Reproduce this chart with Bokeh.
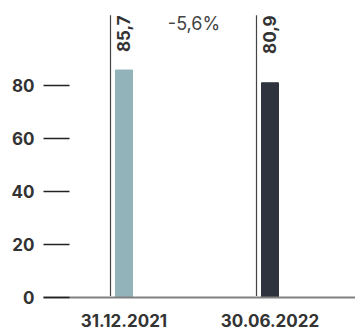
import math
from bokeh.plotting import figure
from bokeh.models import Range1d, FixedTicker, ColumnDataSource
from bokeh.core.properties import value
from bokeh.embed import file_html
from bokeh.resources import INLINE

# Data
dates = ["31.12.2021", "30.06.2022"]
amounts = [85.7, 80.9]
bar_colors = ["#93b3bb", "#2e333d"]
y_ticks = [0, 20, 40, 60, 80]

FONT = "Inter"

xs = list(range(len(dates)))
labels = [f"{v:.1f}".replace(".", ",") for v in amounts]
change = (amounts[1] - amounts[0]) / amounts[0] * 100
change_label = f"{change:.1f}".replace(".", ",") + "%"

p = figure(width=355, height=329, output_backend="svg", toolbar_location=None,
           x_range=Range1d(-0.5514, 1.5856), y_range=Range1d(0, 111.9),
           min_border_left=43, min_border_right=0, min_border_top=0,
           min_border_bottom=31)
p.outline_line_color = None
p.grid.grid_line_color = None
p.background_fill_color = "white"
p.border_fill_color = "white"

src = ColumnDataSource(dict(x=xs, top=amounts, color=bar_colors, label=labels,
                            line_x=[x - 0.0925 for x in xs],
                            line_top=[106.3] * len(xs)))

p.vbar(x="x", top="top", width=0.1164, color="color", source=src)
p.segment(x0="line_x", y0=0.6, x1="line_x", y1="line_top", line_color="#444444",
          line_width=1.2, source=src)
p.text(x="x", y="line_top", text="label", angle=math.pi / 2, x_offset=-7,
       text_align="right", text_baseline="top", text_font=value(FONT),
       text_font_style="bold", text_font_size="17px", text_color="#333333",
       source=src)
p.text(x=[0.5], y=[106.3], text=[change_label], x_offset=-3, y_offset=-2,
       text_align="center", text_baseline="top", text_font=value(FONT),
       text_font_size="18px", text_color="#444444")

# y axis: ticks only, drawn inward from the left edge
ya = p.yaxis[0]
ya.ticker = FixedTicker(ticks=y_ticks)
ya.axis_line_color = None
ya.major_tick_in = 26
ya.major_tick_out = 0
ya.major_tick_line_color = "#222222"
ya.major_tick_line_width = 1.3
ya.minor_tick_line_color = None
ya.major_label_standoff = 9
ya.major_label_text_font = FONT
ya.major_label_text_font_style = "bold"
ya.major_label_text_font_size = "17px"
ya.major_label_text_color = "#333333"

# x axis: baseline plus dates under the bars
xa = p.xaxis[0]
xa.ticker = FixedTicker(ticks=xs)
xa.major_label_overrides = {i: d for i, d in zip(xs, dates)}
xa.axis_line_color = "#808080"
xa.axis_line_width = 2
xa.major_tick_line_color = None
xa.minor_tick_line_color = None
xa.major_label_standoff = 10
xa.major_label_text_font = FONT
xa.major_label_text_font_style = "bold"
xa.major_label_text_font_size = "17px"
xa.major_label_text_color = "#333333"

open("out.html", "w").write(file_html(p, INLINE))
